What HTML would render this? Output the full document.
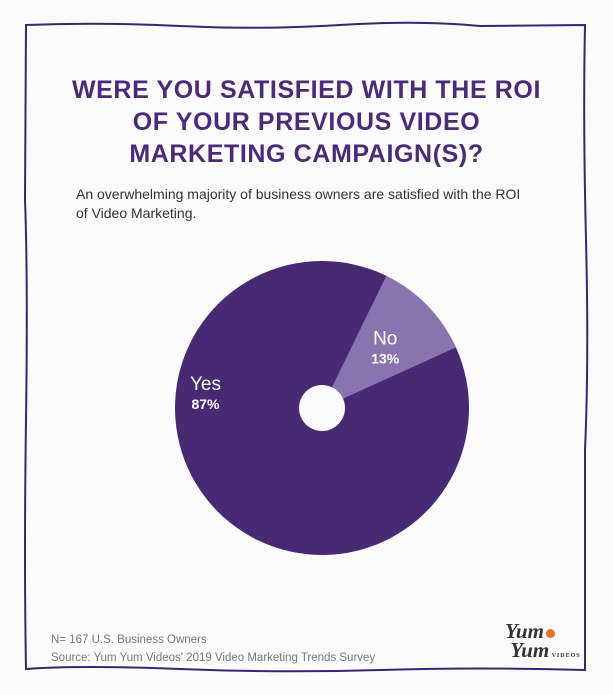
<!DOCTYPE html>
<html><head><meta charset="utf-8"><style>
body{margin:0;width:613px;height:695px;background:#fbfbfb;overflow:hidden;font-family:"Liberation Sans",sans-serif;position:relative}
.title{position:absolute;left:0;width:613px;top:74px;text-align:center;color:#4b2a7a;font-weight:bold;font-size:25px;line-height:32px;letter-spacing:0.6px}
.sub{position:absolute;left:76px;top:185px;font-size:14px;line-height:19px;color:#333}
.foot{position:absolute;left:51px;top:631px;font-size:11.5px;line-height:18px;color:#777}
</style></head><body>
<svg width="613" height="695" style="position:absolute;left:0;top:0">
<path d="M26,25 Q100,22 180,26 T340,25 T480,26 L585,25 Q583,120 586,240 T585,450 L585,670 Q480,667 380,670 T180,669 T26,669 Q24,560 26,420 T25,200 Z" fill="none" stroke="#3a2570" stroke-width="2"/>
</svg>
<div class="title">WERE YOU SATISFIED WITH THE ROI<br>OF YOUR PREVIOUS VIDEO<br>MARKETING CAMPAIGN(S)?</div>
<div class="sub">An overwhelming majority of business owners are satisfied with the ROI<br>of Video Marketing.</div>
<svg id="pie" width="613" height="695" style="position:absolute;left:0;top:0"></svg>
<div class="foot">N= 167 U.S. Business Owners<br>Source: Yum Yum Videos' 2019 Video Marketing Trends Survey</div>
<div style="position:absolute;left:505px;top:622px;width:80px;height:55px;font-family:'Liberation Serif',serif;font-style:italic;font-weight:bold;color:#333;font-size:21px;line-height:19px">Yum<span style="display:inline-block;width:9px;height:9px;border-radius:50%;background:#e8702a;margin-left:2px"></span><br>&nbsp;Yum<span style="font-size:6px;font-style:normal;letter-spacing:1px"> VIDEOS</span></div>
<script>
const categories=["Yes","No"];
const values=[89,11];
const labels=["87%","13%"];
const svg=document.getElementById('pie');
const cx=322,cy=408,R=147,startDeg=26;
const colors=["#472a73","#8a74b0"];
const labelAngleOffset=[52,0];
const labelRadius=[0.8,0.6];
const total=values.reduce((a,b)=>a+b,0);
function pt(deg,r){const a=(deg-90)*Math.PI/180;return [cx+r*Math.cos(a),cy+r*Math.sin(a)];}
let order=[1,0];let ang=startDeg;
order.forEach(i=>{
 const sweep=values[i]/total*360;
 const [x1,y1]=pt(ang,R),[x2,y2]=pt(ang+sweep,R);
 const p=document.createElementNS('http://www.w3.org/2000/svg','path');
 p.setAttribute('d',`M${cx},${cy} L${x1},${y1} A${R},${R} 0 ${sweep>180?1:0} 1 ${x2},${y2} Z`);
 p.setAttribute('fill',colors[i]);
 
 
 svg.appendChild(p);
 const mid=ang+sweep/2+labelAngleOffset[i];const [lx,ly]=pt(mid,R*labelRadius[i]);
 const t1=document.createElementNS('http://www.w3.org/2000/svg','text');
 t1.setAttribute('x',lx);t1.setAttribute('y',ly-2);t1.setAttribute('text-anchor','middle');
 t1.setAttribute('fill','#fff');t1.setAttribute('font-size','19');t1.setAttribute('font-family','Liberation Sans, sans-serif');
 t1.textContent=categories[i];
 
 
 svg.appendChild(t1);
 const t2=document.createElementNS('http://www.w3.org/2000/svg','text');
 t2.setAttribute('x',lx);t2.setAttribute('y',ly+17);t2.setAttribute('text-anchor','middle');
 t2.setAttribute('fill','#fff');t2.setAttribute('font-size','14');t2.setAttribute('font-weight','bold');t2.setAttribute('font-family','Liberation Sans, sans-serif');
 t2.textContent=labels[i];
 
 
 svg.appendChild(t2);
 ang+=sweep;
});
const hole=document.createElementNS('http://www.w3.org/2000/svg','circle');
hole.setAttribute('cx',cx);hole.setAttribute('cy',cy);hole.setAttribute('r',23);hole.setAttribute('fill','#fbfbfb');


svg.appendChild(hole);
</script>
</body></html>
